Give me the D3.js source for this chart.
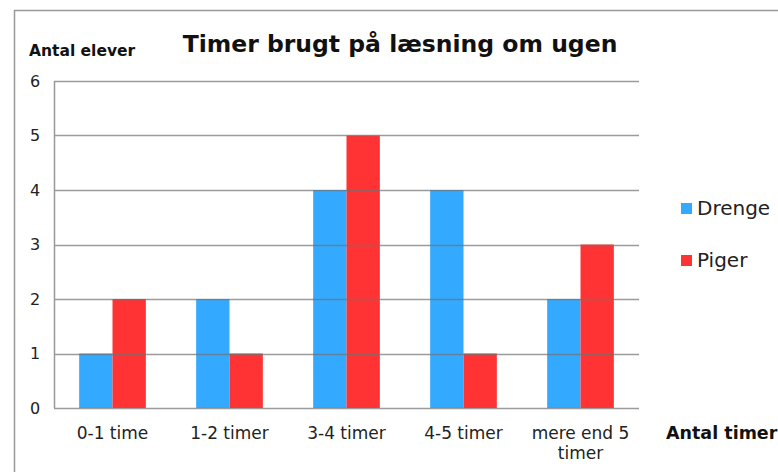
<!DOCTYPE html>
<html>
<head>
<meta charset="utf-8">
<script src="https://cdn.jsdelivr.net/npm/d3@7"></script>
<style>
  body { margin: 0; background: #fff; }
  text { font-family: "DejaVu Sans", Verdana, sans-serif; }
</style>
</head>
<body>
<svg id="chart" width="778" height="472"></svg>
<script>
// data
const categories = ["0-1 time", "1-2 timer", "3-4 timer", "4-5 timer", "mere end 5 timer"];
const series = ["Drenge", "Piger"];
const drenge = [1, 2, 4, 4, 2];
const piger = [2, 1, 5, 1, 3];
const yTicks = [0, 1, 2, 3, 4, 5, 6];
const colors = ["#33aaff", "#ff3333"];

const svg = d3.select("#chart");
const margin = {top: 81, left: 54, right: 139, bottom: 64};
const width = +svg.attr("width");
const height = +svg.attr("height");
const innerW = width - margin.left - margin.right;
const innerH = height - margin.top - margin.bottom;

// outer frame
svg.append("path")
  .attr("d", "M14.5,472 V10.5 H778")
  .attr("fill", "none")
  .attr("stroke", "#999")
  .attr("stroke-width", 1.5);

const g = svg.append("g").attr("transform", `translate(${margin.left},${margin.top})`);

const x0 = d3.scaleBand().domain(categories).range([0, innerW]).paddingInner(0.43).paddingOuter(0.215);
const x1 = d3.scaleBand().domain(series).range([0, x0.bandwidth()]);
const y = d3.scaleLinear().domain([0, 6]).range([innerH, 0]);
const color = d3.scaleOrdinal().domain(series).range(colors);

const rows = categories.map((c, i) => ({cat: c, Drenge: drenge[i], Piger: piger[i]}));

// bars
g.append("g").selectAll("g").data(rows).join("g")
  .attr("transform", d => `translate(${x0(d.cat)},0)`)
  .selectAll("rect").data(d => series.map(k => ({key: k, value: d[k]}))).join("rect")
    .attr("x", d => x1(d.key))
    .attr("y", d => y(d.value))
    .attr("width", x1.bandwidth())
    .attr("height", d => innerH - y(d.value))
    .attr("fill", d => color(d.key));

// gridlines on top (show through the bars)
g.append("g").selectAll("line").data(yTicks).join("line")
  .attr("x1", 0).attr("x2", innerW)
  .attr("y1", d => Math.round(y(d)) + 0.5).attr("y2", d => Math.round(y(d)) + 0.5)
  .attr("stroke", "#707070")
  .attr("stroke-opacity", 0.7)
  .attr("stroke-width", 1.5);

// left axis line
g.append("line")
  .attr("x1", 0.5).attr("x2", 0.5).attr("y1", 0).attr("y2", innerH)
  .attr("stroke", "#999").attr("stroke-width", 1.5);

// y tick labels
g.append("g").selectAll("text").data(yTicks).join("text")
  .attr("x", -19).attr("y", d => y(d)).attr("dy", "0.35em")
  .attr("text-anchor", "middle")
  .attr("font-size", 16).attr("fill", "#222")
  .text(d => d);

// x labels
const xl = g.append("g").selectAll("text").data(categories).join("text")
  .attr("x", d => x0(d) + x0.bandwidth() / 2)
  .attr("y", innerH + 31)
  .attr("text-anchor", "middle")
  .attr("font-size", 17).attr("fill", "#222");
xl.each(function(d) {
  const t = d3.select(this);
  const lines = d === "mere end 5 timer" ? ["mere end 5", "timer"] : [d];
  lines.forEach((l, i) => t.append("tspan")
    .attr("x", x0(d) + x0.bandwidth() / 2)
    .attr("dy", i === 0 ? 0 : 20)
    .text(l));
});

// titles
svg.append("text").attr("x", 400).attr("y", 52).attr("text-anchor", "middle")
  .attr("font-size", 23.5).attr("font-weight", "bold").attr("fill", "#111")
  .text("Timer brugt på læsning om ugen");
svg.append("text").attr("x", 29).attr("y", 56)
  .attr("font-size", 15.5).attr("font-weight", "bold").attr("fill", "#111")
  .text("Antal elever");
svg.append("text").attr("x", 666).attr("y", 439)
  .attr("font-size", 17.5).attr("font-weight", "bold").attr("fill", "#111")
  .text("Antal timer");

// legend
const leg = svg.append("g").selectAll("g").data(series).join("g")
  .attr("transform", (d, i) => `translate(681,${208 + i * 52})`);
leg.append("rect").attr("x", 0).attr("y", -5).attr("width", 11).attr("height", 11)
  .attr("fill", d => color(d));
leg.append("text").attr("x", 16).attr("y", 0).attr("dy", "0.36em")
  .attr("font-size", 20).attr("fill", "#222")
  .text(d => d);
</script>
</body>
</html>
